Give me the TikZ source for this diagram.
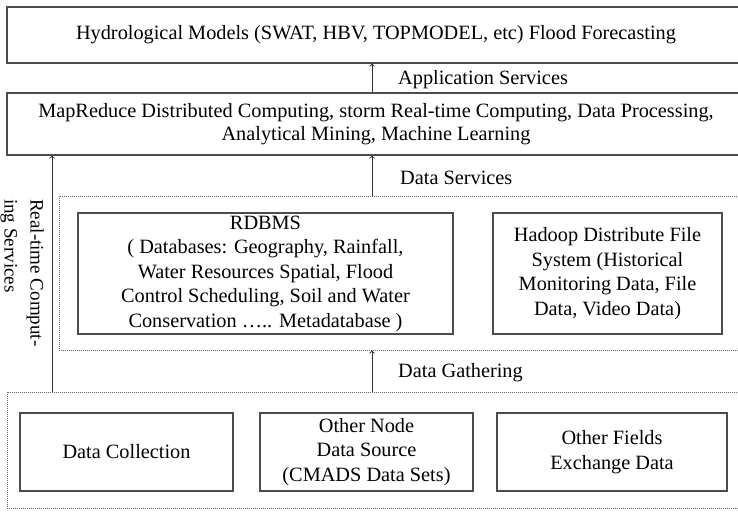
\documentclass[tikz,border=0pt]{standalone}
\usepackage{fontspec}
\setmainfont{Liberation Serif}
\usetikzlibrary{arrows}
\usetikzlibrary{positioning}

\begin{document}
\begin{tikzpicture}
	[x=1pt,y=-1pt,font=\fontsize{20.3}{24.5}\selectfont,
	box/.style={rectangle,draw=black!70,line width=1.2pt,inner sep=0pt,align=center},
	zone/.style={rectangle,draw=black!60,line width=0.9pt,dash pattern=on 1pt off 1pt,inner sep=0pt},
	flow/.style={->,draw=black!80,line width=1pt},
	lbl/.style={anchor=west,inner sep=0pt}]
	\useasboundingbox (0,0) rectangle (738,511);
	\clip (0,0) rectangle (738,511);

	% layers (they run off to the right)
	\node[box,minimum width=738pt,minimum height=56pt] (hydro) at (376,35)
		{Hydrological Models (SWAT, HBV, TOPMODEL, etc) Flood Forecasting};
	\node[box,minimum width=738pt,minimum height=62pt,font=\fontsize{20.3}{23}\selectfont] (mapred) at (376,124)
		{MapReduce Distributed Computing, storm Real-time Computing, Data Processing,\\
		 Analytical Mining, Machine Learning};
	\node[zone,minimum width=711pt,minimum height=154pt] (midzone) at (414.5,273) {};
	\node[zone,minimum width=763pt,minimum height=116pt] (bottomzone) at (388.5,450) {};

	% storage
	\node[box,minimum width=375pt,minimum height=121pt] (rdbms) at (265.5,273.5)
		{RDBMS\\( Databases: Geography, Rainfall,\\Water Resources Spatial, Flood\\
		 Control Scheduling, Soil and Water\\Conservation ….. Metadatabase )};
	\node[box,minimum width=229pt,minimum height=121pt] (hdfs) at (607.5,273.5)
		{Hadoop Distribute File\\System (Historical\\Monitoring Data, File\\Data, Video Data)};

	% sources
	\node[box,minimum width=213pt,minimum height=78pt] (collect) at (126.5,452) {Data Collection};
	\node[box,minimum width=213pt,minimum height=78pt] (othernode) at (366.5,452)
		{Other Node\\Data Source\\(CMADS Data Sets)};
	\node[box,minimum width=230pt,minimum height=78pt] (fields) at (612,452)
		{Other Fields\\Exchange Data};

	% arrows between layers
	\coordinate (upx) at (372,0);
	\coordinate (rtx) at (52,0);
	\foreach \from/\to in {mapred/hydro, midzone/mapred, bottomzone/midzone}
		\draw[flow] (\from.north -| upx) -- (\to.south -| upx);
	\draw[flow] (bottomzone.north -| rtx) -- (mapred.south -| rtx);

	\node[lbl] (applbl) at (398,80) {Application Services};
	\node[lbl] (datalbl) at (400,178) {Data Services};
	\node[lbl] (gatherlbl) at (398,373) {Data Gathering};
	\node[rotate=-90,anchor=north west,align=left,inner sep=0pt,
		font=\fontsize{19}{26}\selectfont] (rtlbl) at (44,199)
		{Real-time Comput-\\ing Services};
\end{tikzpicture}
\end{document}
